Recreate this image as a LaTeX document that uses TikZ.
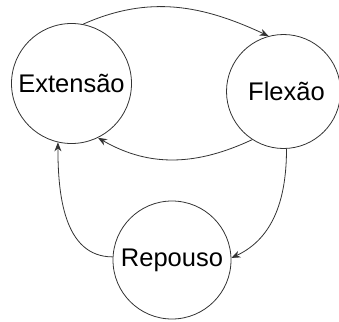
\documentclass[tikz,border=0pt]{standalone}
\usepackage{fontspec}
\setmainfont{Liberation Sans}
\usetikzlibrary{arrows.meta}
\begin{document}
\begin{tikzpicture}[x=1pt,y=-1pt,
    state/.style={draw=black!80,circle,inner sep=0pt,line width=0.8pt,
      font=\fontsize{25.5}{30}\selectfont},
    trans/.style={draw=black!80,line width=0.8pt,-{Stealth[length=9pt,width=7pt]}}]
  \useasboundingbox (0,0) rectangle (339,321);
  \draw
    (71.5,83.5) node[state,minimum size=120pt] (ext){Extensão}
    (283.5,91.5) node[state,minimum size=114pt] (flex){\hspace*{6pt}Flexão}
    (172,260) node[state,minimum size=118pt] (rep){Repouso};
  \begin{scope}[trans]
    \draw (ext.79) to[out=24,in=155] (flex.105);
    \draw (flex.237) to[out=205,in=-30] (ext.296);
    \draw (flex.273) to[out=270,in=25] (rep.2);
    \draw (rep.177) to[out=180,in=270] (ext.257);
  \end{scope}
\end{tikzpicture}
\end{document}
